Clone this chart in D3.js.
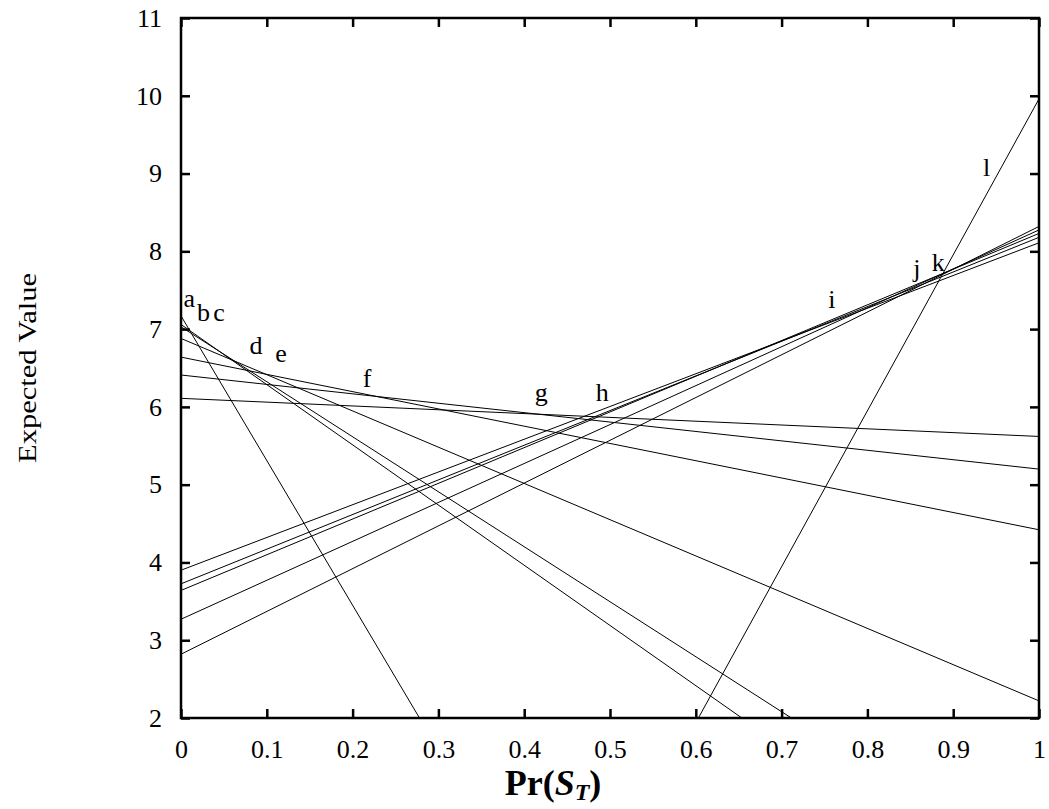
<!DOCTYPE html>
<html>
<head>
<meta charset="utf-8">
<script src="https://cdn.jsdelivr.net/npm/d3@7"></script>
<style>
  body { margin: 0; background: #fff; }
  svg text { font-family: "Liberation Serif", "Times New Roman", serif; fill: #000; }
</style>
</head>
<body>
<div id="graph"></div>
<script>
// expected value of each strategy line at Pr(S_T) = 0 and Pr(S_T) = 1
var startValues = [7.17, 7.06, 7.03, 6.88, 6.64, 6.41, 6.11, 3.90, 3.725, 3.64, 3.27, 2.82, -10.09];
var endValues   = [-11.43, -0.68, -0.04, 2.22, 4.42, 5.20, 5.62, 8.11, 8.18, 8.23, 8.275, 8.32, 9.96];

// letter labels along the upper envelope (data coords)
var labelNames = ["a", "b", "c", "d", "e", "f", "g", "h", "i", "j", "k", "l"];
var labelPr    = [0.0097, 0.0263, 0.0443, 0.0875, 0.1167, 0.217, 0.420, 0.491, 0.7585, 0.8576, 0.8827, 0.9389];
var labelValue = [7.29, 7.10, 7.10, 6.68, 6.58, 6.26, 6.08, 6.07, 7.27, 7.67, 7.75, 8.97];

var xTicks = [0, 0.1, 0.2, 0.3, 0.4, 0.5, 0.6, 0.7, 0.8, 0.9, 1];
var yTicks = [2, 3, 4, 5, 6, 7, 8, 9, 10, 11];

var svg = d3.select("#graph").append("svg")
    .attr("width", 1049)
    .attr("height", 809);

var margin = {top: 18, right: 10, bottom: 91, left: 181},
    width = 1049 - margin.left - margin.right,
    height = 809 - margin.top - margin.bottom;

var x = d3.scaleLinear().domain([0, 1]).range([0, width]),
    y = d3.scaleLinear().domain([2, 11]).range([height, 0]);

var g = svg.append("g")
    .attr("transform", "translate(" + margin.left + "," + margin.top + ")");

g.append("clipPath")
    .attr("id", "plotclip")
    .append("rect")
    .attr("width", width)
    .attr("height", height);

// the strategy lines
var lines = startValues.map(function (v, i) {
    return [[0, v], [1, endValues[i]]];
});

var lineGen = d3.line()
    .x(function (d) { return x(d[0]); })
    .y(function (d) { return y(d[1]); });

g.append("g")
    .attr("clip-path", "url(#plotclip)")
    .selectAll("path")
    .data(lines)
    .enter().append("path")
    .attr("d", lineGen)
    .attr("fill", "none")
    .attr("stroke", "#000")
    .attr("stroke-width", 1);

// axes, ticks pointing inward on every side
var fmt = function (d) { return d3.format("")(+d.toFixed(1)); };

var xAxis = g.append("g")
    .attr("transform", "translate(0," + height + ")")
    .call(d3.axisBottom(x).tickValues(xTicks).tickFormat(fmt).tickSize(-9).tickSizeOuter(0).tickPadding(22));

var yAxis = g.append("g")
    .call(d3.axisLeft(y).tickValues(yTicks).tickFormat(d3.format("d")).tickSize(-9).tickSizeOuter(0).tickPadding(19));

var xTop = g.append("g")
    .call(d3.axisTop(x).tickValues(xTicks).tickFormat("").tickSize(-9).tickSizeOuter(0));

var yRight = g.append("g")
    .attr("transform", "translate(" + width + ",0)")
    .call(d3.axisRight(y).tickValues(yTicks).tickFormat("").tickSize(-9).tickSizeOuter(0));

[xAxis, yAxis, xTop, yRight].forEach(function (ax) {
    ax.select(".domain").remove();
    ax.selectAll(".tick line").attr("stroke", "#000").attr("stroke-width", 2.5);
    ax.selectAll(".tick text")
        .style("font-family", "'Liberation Serif', 'Times New Roman', serif")
        .style("font-size", "26px")
        .attr("fill", "#000");
});

g.append("rect")
    .attr("width", width)
    .attr("height", height)
    .attr("fill", "none")
    .attr("stroke", "#000")
    .attr("stroke-width", 2.5);

// letter labels
g.selectAll(".lbl")
    .data(labelNames)
    .enter().append("text")
    .attr("class", "lbl")
    .attr("x", function (d, i) { return x(labelPr[i]); })
    .attr("y", function (d, i) { return y(labelValue[i]); })
    .attr("text-anchor", "middle")
    .style("font-size", "26px")
    .text(function (d) { return d; });

// axis titles
svg.append("text")
    .attr("transform", "translate(36," + (margin.top + height / 2) + ") rotate(-90)")
    .attr("text-anchor", "middle")
    .attr("textLength", 190)
    .attr("lengthAdjust", "spacingAndGlyphs")
    .style("font-size", "26px")
    .text("Expected Value");

var xt = svg.append("text")
    .attr("x", 553)
    .attr("y", 795)
    .attr("text-anchor", "middle")
    .style("font-size", "36px")
    .style("font-weight", "bold");
xt.append("tspan").text("Pr(");
xt.append("tspan").style("font-style", "italic").text("S");
xt.append("tspan").style("font-style", "italic").style("font-size", "24px").attr("dy", 5).text("T");
xt.append("tspan").attr("dy", -5).text(")");
</script>
</body>
</html>
